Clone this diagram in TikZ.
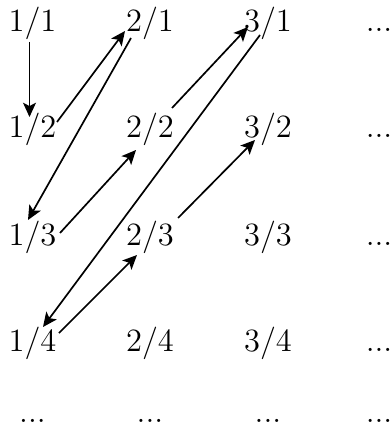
\RequirePackage{fix-cm}
\documentclass[tikz,border=0pt]{standalone}
\usetikzlibrary{arrows.meta,calc}
\begin{document}
\begin{tikzpicture}[x=0.3846pt,y=-0.3846pt,
  num/.style={anchor=base,inner sep=0pt,font=\fontsize{12.5}{15}\selectfont},
  arr/.style={-{Stealth[length=5.5pt,width=5pt,inset=1.3pt]},line width=0.65pt}]
\useasboundingbox (0,0) rectangle (390,425);
% columns 32.5,150,268,379 ; rows 32,138,245,351,422
\node[num] (n11) at (32.5,32) {$1/1$};
\node[num] (n21) at (150,32) {$2/1$};
\node[num] (n31) at (268,32) {$3/1$};
\node[num] (d1) at (379,32) {$...$};
\node[num] (n12) at (32.5,138) {$1/2$};
\node[num] (n22) at (150,138) {$2/2$};
\node[num] (n32) at (268,138) {$3/2$};
\node[num] (d2) at (379,138) {$...$};
\node[num] (n13) at (32.5,245) {$1/3$};
\node[num] (n23) at (150,245) {$2/3$};
\node[num] (n33) at (268,245) {$3/3$};
\node[num] (d3) at (379,245) {$...$};
\node[num] (n14) at (32.5,351) {$1/4$};
\node[num] (n24) at (150,351) {$2/4$};
\node[num] (n34) at (268,351) {$3/4$};
\node[num] (d4) at (379,351) {$...$};
\node[num] (e1) at (32.5,422) {$...$};
\node[num] (e2) at (150,422) {$...$};
\node[num] (e3) at (268,422) {$...$};
\node[num] (e4) at (379,422) {$...$};
% zig-zag arrows
\draw[arr] ($(n11.base)+(-3,10)$) -- ($(n12.base)+(-3,-21)$);
\draw[arr] ($(n12.base)+(24.5,-16)$) -- ($(n21.base)+(-25,-1)$);
\draw[arr] ($(n21.base)+(-19,6)$) -- ($(n13.base)+(-4.5,-25)$);
\draw[arr] ($(n13.base)+(27.5,-12)$) -- ($(n22.base)+(-14,12)$);
\draw[arr] ($(n22.base)+(22,-30)$) -- ($(n31.base)+(-20,-5)$);
\draw[arr] ($(n31.base)+(-8,3)$) -- ($(n14.base)+(10.5,-24)$);
\draw[arr] ($(n14.base)+(26.5,-18)$) -- ($(n23.base)+(-13,10)$);
\draw[arr] ($(n23.base)+(28,-27)$) -- ($(n32.base)+(-13,2)$);
\end{tikzpicture}
\end{document}
